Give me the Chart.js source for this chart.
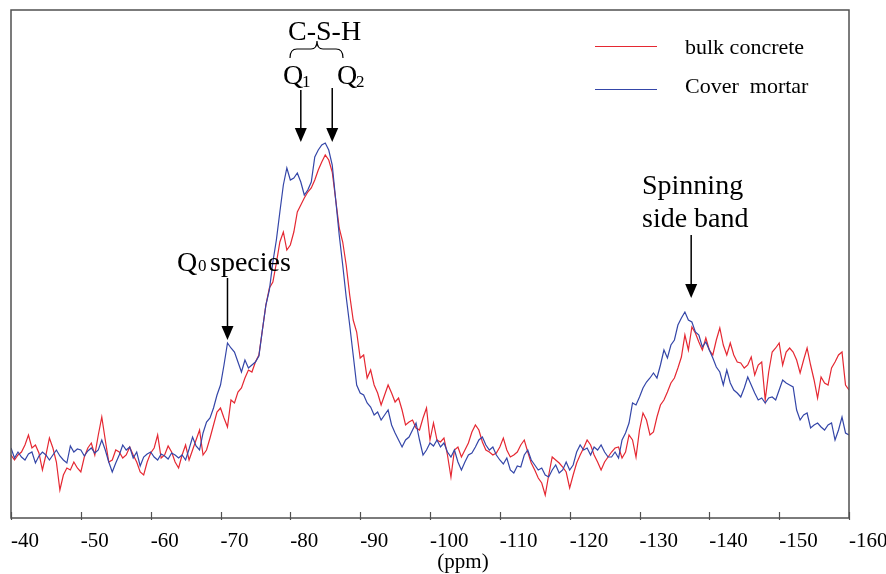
<!DOCTYPE html>
<html>
<head>
<meta charset="utf-8">
<script src="https://cdn.jsdelivr.net/npm/chart.js@4/dist/chart.umd.min.js"></script>
<style>
body { margin: 0; background: #fff; }
#wrap { width: 886px; height: 574px; }
</style>
</head>
<body>
<div id="wrap"><canvas id="nmr" width="886" height="574"></canvas></div>
<script>
// 29Si spectrum, one value every 0.5 ppm from -40 to -160 ppm
var ppmStart = -40;
var ppmStep = -0.5;
var seriesNames = ["bulk concrete", "Cover  mortar"];

var bulkConcrete = [
  12.4, 11.4, 12.4, 13.0, 14.4, 16.4, 13.8, 14.4, 12.8, 9.4, 12.4, 15.8, 13.8, 11.0, 5.4, 8.4, 9.8, 9.4, 11.0, 9.8,
  9.0, 12.0, 13.8, 14.8, 12.4, 16.4, 20.0, 15.4, 11.0, 11.4, 13.4, 13.0, 11.8, 12.4, 14.0, 12.4, 11.0, 9.0, 8.4, 11.0,
  12.8, 13.8, 16.4, 11.8, 12.4, 14.2, 13.0, 11.0, 9.8, 12.4, 14.4, 11.4, 13.4, 15.4, 17.4, 12.4, 13.4, 15.8, 18.4, 21.0,
  21.8, 19.8, 18.0, 23.4, 22.8, 25.0, 25.8, 27.8, 29.4, 29.0, 31.0, 32.4, 37.4, 42.4, 45.8, 47.0, 50.8, 55.0, 57.0, 53.4,
  54.4, 57.0, 61.0, 62.4, 63.8, 65.0, 65.8, 67.4, 69.4, 71.0, 72.4, 71.4, 69.0, 63.4, 57.8, 55.0, 50.4, 44.4, 39.4, 37.0,
  31.8, 32.4, 27.8, 29.4, 26.4, 24.8, 22.4, 24.4, 26.4, 24.8, 23.0, 23.8, 21.4, 18.4, 19.0, 19.4, 17.8, 17.4, 19.8, 21.8,
  15.4, 18.8, 15.4, 15.0, 15.8, 12.4, 8.0, 13.4, 14.0, 12.0, 13.4, 14.8, 17.0, 18.4, 17.4, 15.0, 13.4, 13.0, 12.4, 12.8,
  14.0, 15.8, 13.4, 12.0, 12.4, 13.0, 14.4, 15.4, 13.0, 10.8, 9.4, 7.8, 6.8, 4.4, 8.4, 12.0, 11.4, 10.8, 10.0, 9.0,
  5.8, 8.4, 10.8, 12.4, 13.8, 15.4, 14.4, 12.4, 11.0, 9.4, 11.0, 12.0, 13.0, 13.8, 14.0, 11.8, 13.0, 16.4, 15.4, 12.0,
  17.4, 20.8, 19.4, 16.4, 17.0, 20.0, 22.4, 23.4, 25.0, 26.8, 27.8, 29.8, 32.0, 36.4, 33.4, 38.0, 36.8, 35.0, 33.4, 35.8,
  33.4, 32.4, 35.4, 37.8, 34.4, 32.4, 34.8, 32.4, 31.0, 30.8, 29.8, 30.4, 32.0, 28.4, 30.4, 31.0, 23.4, 29.0, 33.0, 33.8,
  34.8, 30.4, 33.0, 33.8, 33.0, 31.4, 28.8, 31.4, 33.8, 30.4, 27.4, 23.8, 28.0, 26.8, 26.4, 29.8, 31.0, 32.4, 33.0, 26.4,
  25.4
];

var coverMortar = [
  13.8, 11.8, 13.0, 12.0, 11.4, 12.6, 13.0, 10.8, 12.2, 13.0, 12.4, 11.4, 12.4, 13.4, 12.2, 11.4, 10.8, 14.2, 13.0, 13.6,
  13.4, 12.2, 13.2, 13.8, 12.8, 13.4, 15.4, 13.4, 11.0, 9.0, 10.8, 12.4, 14.4, 13.4, 14.0, 11.8, 13.0, 10.2, 12.0, 12.6,
  13.0, 12.0, 11.4, 12.6, 12.2, 11.6, 12.8, 12.4, 11.8, 12.4, 11.4, 13.6, 16.0, 14.2, 13.4, 16.8, 19.0, 19.8, 21.8, 24.4,
  26.4, 30.4, 34.8, 33.8, 33.0, 31.0, 29.0, 31.4, 29.8, 30.4, 31.0, 32.2, 37.4, 42.4, 45.4, 51.0, 55.4, 61.0, 66.4, 69.8,
  67.4, 67.8, 68.8, 67.0, 64.4, 65.4, 67.0, 72.0, 73.4, 74.4, 74.8, 73.4, 70.4, 63.4, 56.4, 50.4, 44.0, 38.4, 32.4, 26.4,
  24.8, 24.4, 22.8, 22.0, 20.4, 21.0, 19.4, 20.4, 21.4, 18.4, 16.8, 15.4, 14.0, 15.4, 16.0, 17.4, 18.8, 15.4, 12.4, 13.4,
  14.8, 14.2, 15.4, 14.0, 14.8, 13.0, 12.0, 13.4, 11.0, 9.4, 11.0, 12.4, 12.8, 14.0, 15.4, 16.0, 14.4, 13.4, 14.0, 12.4,
  11.4, 10.6, 11.8, 9.4, 8.8, 10.2, 10.0, 12.4, 13.4, 11.4, 10.4, 9.4, 9.8, 8.4, 8.0, 9.4, 10.4, 8.8, 9.4, 11.0,
  9.4, 10.4, 13.0, 14.4, 13.4, 13.8, 12.4, 14.0, 13.4, 14.4, 13.0, 12.0, 12.0, 13.0, 11.8, 15.4, 16.8, 18.8, 22.8, 22.4,
  24.0, 25.8, 27.0, 27.8, 28.8, 27.8, 30.4, 33.4, 31.8, 34.4, 35.4, 38.4, 39.8, 41.0, 39.4, 39.0, 37.0, 36.4, 34.0, 35.0,
  33.4, 31.8, 30.0, 29.0, 26.4, 29.4, 26.8, 25.4, 24.8, 24.0, 25.8, 28.0, 26.4, 24.8, 23.4, 23.8, 22.8, 23.8, 24.0, 23.4,
  25.4, 27.4, 26.8, 26.4, 26.0, 21.4, 19.4, 20.4, 20.8, 17.8, 18.4, 18.8, 18.0, 17.4, 18.4, 18.8, 15.4, 17.4, 20.0, 16.8,
  16.4
];

// peaks pointed at by the arrows (ppm)
var markPpm = { q0: -71.0, q1: -81.5, q2: -86.0, ssb: -137.4 };

var RED = "#e52832";
var BLUE = "#3446a8";
var SERIF = '"Liberation Serif", "Times New Roman", serif';

function toPoints(values) {
  return values.map(function (v, i) {
    return { x: ppmStart + ppmStep * i, y: v };
  });
}

function arrowDown(ctx, x, y0, tip) {
  ctx.beginPath();
  ctx.moveTo(x, y0);
  ctx.lineTo(x, tip - 12);
  ctx.stroke();
  ctx.beginPath();
  ctx.moveTo(x - 6, tip - 14);
  ctx.lineTo(x + 6, tip - 14);
  ctx.lineTo(x, tip);
  ctx.closePath();
  ctx.fill();
}

var decorations = {
  id: "decorations",
  afterDraw: function (chart) {
    var ctx = chart.ctx;
    var area = chart.chartArea;
    var xs = chart.scales.x;
    ctx.save();

    // frame
    ctx.strokeStyle = "#505050";
    ctx.lineWidth = 1.5;
    ctx.strokeRect(area.left, area.top, area.right - area.left, area.bottom - area.top);

    // tick marks
    ctx.lineWidth = 1.2;
    xs.ticks.forEach(function (t) {
      var px = Math.round(xs.getPixelForValue(t.value)) + 0.5;
      ctx.beginPath();
      ctx.moveTo(px, area.bottom - 6);
      ctx.lineTo(px, area.bottom + 2);
      ctx.stroke();
    });

    ctx.fillStyle = "#000";
    ctx.strokeStyle = "#000";
    ctx.textBaseline = "alphabetic";

    // axis title
    ctx.font = "21px " + SERIF;
    ctx.textAlign = "center";
    ctx.fillText("(ppm)", 463, 568);
    ctx.textAlign = "left";

    // legend
    ctx.lineWidth = 1;
    ctx.strokeStyle = RED;
    ctx.beginPath(); ctx.moveTo(595, 46.5); ctx.lineTo(657, 46.5); ctx.stroke();
    ctx.strokeStyle = BLUE;
    ctx.beginPath(); ctx.moveTo(595, 89.5); ctx.lineTo(657, 89.5); ctx.stroke();
    ctx.font = "22px " + SERIF;
    ctx.fillText(seriesNames[0], 685, 54);
    ctx.fillText(seriesNames[1], 685, 93);

    // annotations
    ctx.strokeStyle = "#000";
    ctx.font = "28px " + SERIF;
    ctx.fillText("C-S-H", 288, 40);
    ctx.fillText("Q", 283, 84);
    ctx.fillText("Q", 337, 84);
    ctx.fillText("Q", 177, 271);
    ctx.fillText("species", 210, 271);
    ctx.fillText("Spinning", 642, 194);
    ctx.fillText("side band", 642, 227);
    ctx.font = "17px " + SERIF;
    ctx.fillText("1", 302, 87);
    ctx.fillText("2", 356, 87);
    ctx.fillText("0", 198, 271);

    // brace under C-S-H
    ctx.lineWidth = 1.2;
    ctx.beginPath();
    ctx.moveTo(290, 58);
    ctx.quadraticCurveTo(290, 49, 297, 49);
    ctx.lineTo(311, 49);
    ctx.quadraticCurveTo(317, 49, 317, 41);
    ctx.quadraticCurveTo(317, 49, 323, 49);
    ctx.lineTo(336, 49);
    ctx.quadraticCurveTo(343, 49, 343, 58);
    ctx.stroke();

    // arrows
    ctx.lineWidth = 1.5;
    arrowDown(ctx, xs.getPixelForValue(markPpm.q1), 90, 142);
    arrowDown(ctx, xs.getPixelForValue(markPpm.q2), 88, 142);
    arrowDown(ctx, xs.getPixelForValue(markPpm.q0), 278, 340);
    arrowDown(ctx, xs.getPixelForValue(markPpm.ssb), 235, 298);

    ctx.restore();
  }
};

var nmrChart = new Chart(document.getElementById("nmr").getContext("2d"), {
  type: "line",
  data: {
    datasets: [{
      label: seriesNames[1],
      data: toPoints(coverMortar),
      borderColor: BLUE,
      borderWidth: 1.2,
      pointRadius: 0,
      tension: 0
    }, {
      label: seriesNames[0],
      data: toPoints(bulkConcrete),
      borderColor: RED,
      borderWidth: 1.2,
      pointRadius: 0,
      tension: 0
    }]
  },
  options: {
    responsive: false,
    animation: false,
    events: [],
    layout: { padding: { left: 11, right: 37, top: 10, bottom: 0 } },
    plugins: { legend: { display: false }, tooltip: { enabled: false } },
    scales: {
      x: {
        type: "linear",
        min: -160,
        max: -40,
        reverse: true,
        grid: { display: false, drawTicks: false },
        border: { display: false },
        ticks: {
          stepSize: 10,
          align: "start",
          maxRotation: 0,
          autoSkip: false,
          padding: 11,
          color: "#000",
          font: { family: SERIF, size: 21 }
        },
        afterFit: function (scale) {
          scale.height = 56;
          scale.paddingLeft = 0;
          scale.paddingRight = 0;
        }
      },
      y: {
        display: false,
        min: -0.2,
        max: 101.4
      }
    }
  },
  plugins: [decorations]
});
</script>
</body>
</html>
